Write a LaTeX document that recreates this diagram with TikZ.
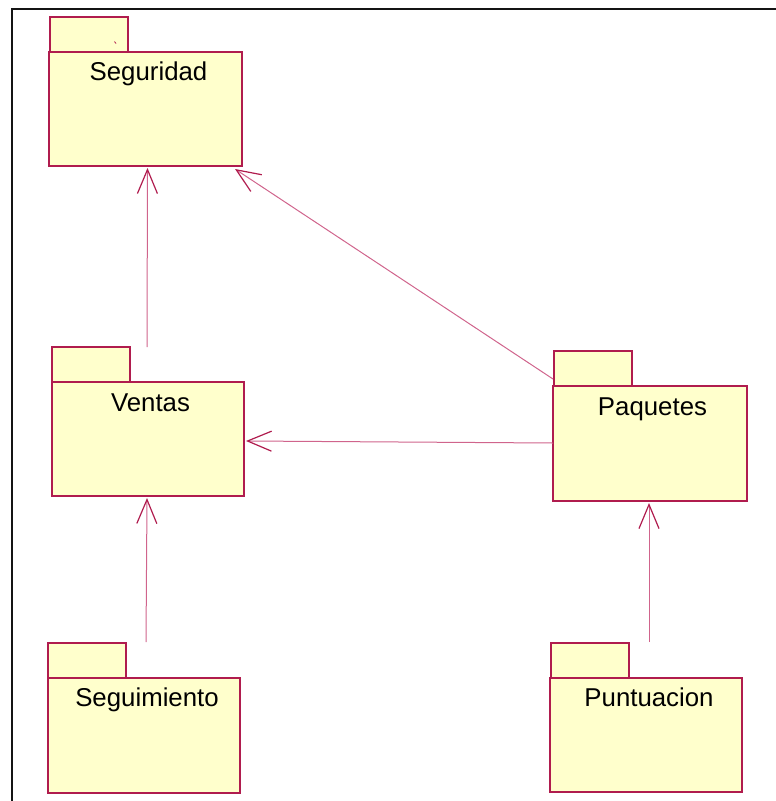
\documentclass[tikz,border=0pt]{standalone}
\usepackage{fontspec}
\setmainfont{Liberation Sans}
\usetikzlibrary{arrows.meta,calc}

\definecolor{pkgline}{RGB}{176,28,78}
\definecolor{pkgfill}{RGB}{255,255,204}
\definecolor{deplight}{RGB}{208,100,140}
\definecolor{framecol}{RGB}{20,20,20}

\tikzset{
  pkgbody/.style={draw=pkgline, fill=pkgfill, line width=1.3pt, inner sep=0pt,
    outer sep=0pt, anchor=north west, minimum width=193pt, minimum height=114pt},
  pkgtab/.style={draw=pkgline, fill=pkgfill, line width=1.2pt, inner sep=0pt,
    outer sep=0pt, anchor=south west, minimum width=78pt, minimum height=35pt},
  pkglabel/.style={anchor=base, inner sep=0pt, font=\fontsize{25.8}{30}\selectfont},
  dep/.style={draw=deplight, line width=1pt,
    -{Straight Barb[length=24pt,width=20pt,color=pkgline,line width=1.2pt]}},
  framestroke/.style={draw=framecol, line width=2pt}
}

\begin{document}
\begin{tikzpicture}[x=1pt,y=-1pt]
  \useasboundingbox (0,0) rectangle (776,801);

  % outer frame (top and left edges)
  \draw[framestroke] (11.5,801) -- (11.5,8.5) -- (776,8.5);

  % package tabs
  \node[pkgtab] (segT)  at (50,52)  {};
  \node[pkgtab] (venT)  at (52,382) {};
  \node[pkgtab] (paqT)  at (554,386) {};
  \node[pkgtab] (seguT) at (48,678) {};
  \node[pkgtab] (punT)  at (551,678) {};

  % package bodies
  \node[pkgbody, minimum width=193pt, minimum height=114pt] (seg)  at (49,52)  {};
  \node[pkgbody, minimum width=192pt, minimum height=114pt] (ven)  at (52,382) {};
  \node[pkgbody, minimum width=194pt, minimum height=115pt] (paq)  at (553,386) {};
  \node[pkgbody, minimum width=192pt, minimum height=115pt] (segu) at (48,678) {};
  \node[pkgbody, minimum width=192pt, minimum height=114pt] (pun)  at (550,678) {};

  % small stroke inside the Seguridad tab
  \draw[pkgline, line width=0.8pt] (114.5,41.5) -- (116,43.5);

  % package names
  \node[pkglabel] (segL)  at ($(seg.north)+(3,28)$)  {Seguridad};
  \node[pkglabel] (venL)  at ($(ven.north)+(2.5,29)$) {Ventas};
  \node[pkglabel] (paqL)  at ($(paq.north)+(2.5,29)$) {Paquetes};
  \node[pkglabel] (seguL) at ($(segu.north)+(3,28)$) {Seguimiento};
  \node[pkglabel] (punL)  at ($(pun.north)+(3,28)$)  {Puntuacion};

  % dependencies
  \draw[dep] ($(ven.north)+(-1,-35)$) -- ($(seg.south)+(2,2)$);
  \draw[dep] ($(paq.north west)+(0,-7)$) -- ($(seg.south east)+(-7,3)$);
  \draw[dep] ($(paq.west)+(0,-0.5)$) -- ($(ven.east)+(2,2)$);
  \draw[dep] ($(segu.north)+(2,-36)$) -- ($(ven.south)+(-1,2)$);
  \draw[dep] ($(pun.north)+(3,-36)$) -- ($(paq.south)+(-1,2)$);
\end{tikzpicture}
\end{document}
